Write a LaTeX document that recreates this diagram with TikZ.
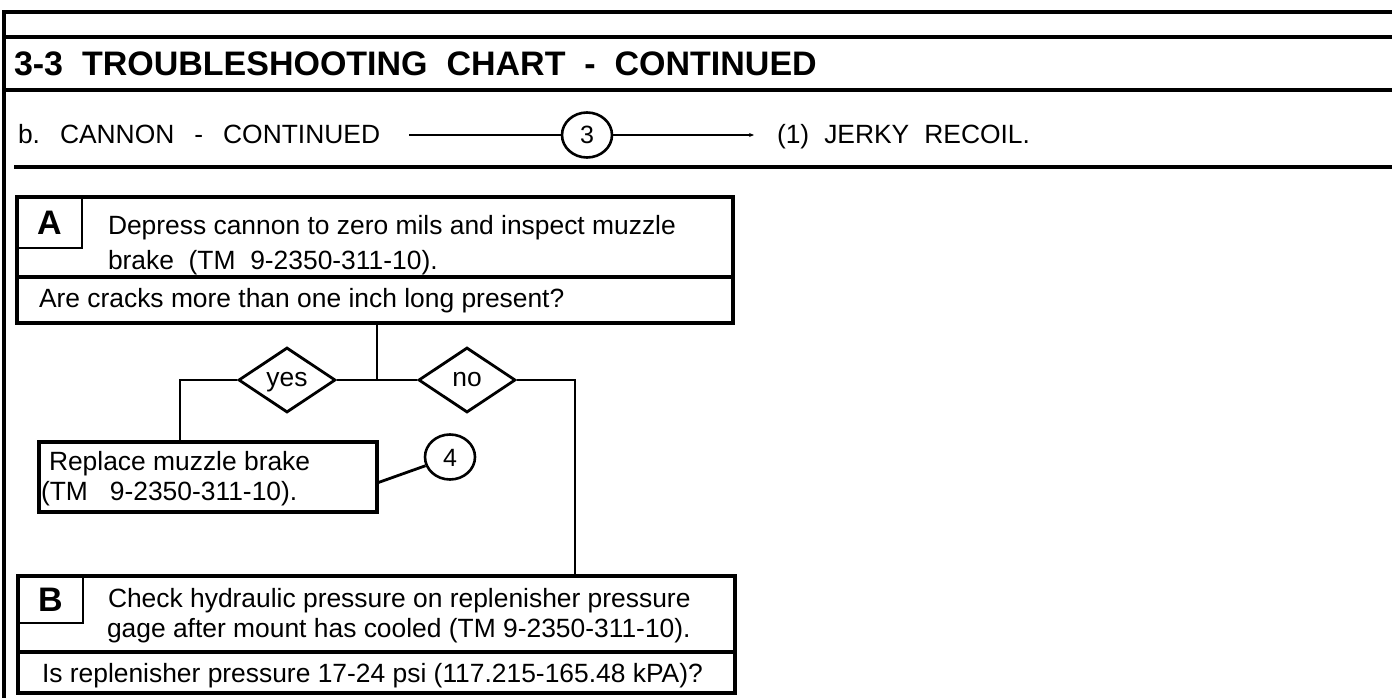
\documentclass[tikz,border=0pt]{standalone}
\usepackage{fontspec}
\setmainfont{Liberation Sans}
\usetikzlibrary{shapes.geometric,arrows.meta}
\newcommand\mybody{\fontsize{26.4pt}{30pt}\selectfont}
\newcommand\mytitle{\fontsize{34pt}{38pt}\selectfont\bfseries}
\newcommand\myletter{\fontsize{34pt}{38pt}\selectfont\bfseries}
\newcommand\mysmall{\fontsize{25pt}{28pt}\selectfont}
\begin{document}
\begin{tikzpicture}[x=1pt,y=-1pt,
  frame/.style={line width=4pt},
  box/.style={draw,rectangle,line width=3.6pt,inner sep=0pt,outer sep=0pt},
  lbox/.style={draw,rectangle,line width=2.8pt,inner sep=0pt,outer sep=0pt,font=\myletter},
  txt/.style={inner sep=0pt,outer sep=0pt,anchor=base west,font=\mybody},
  divider/.style={line width=3.4pt},
  conn/.style={line width=2.8pt},
  thin/.style={line width=2.2pt},
  dia/.style={draw,diamond,line width=2.8pt,minimum width=97pt,minimum height=65pt,inner sep=0pt,font=\mybody,text height=13.5pt,text depth=0pt},
  ring/.style={draw,ellipse,line width=2.6pt,minimum width=50pt,minimum height=45pt,inner sep=0pt,font=\mysmall,text height=18pt,text depth=0pt}]
\useasboundingbox (0,0) rectangle (1392,698);
% frame
\draw[frame] (4,698) -- (4,12) -- (1392,12);
\draw[frame] (4,37) -- (1392,37);
\draw[frame] (4,90) -- (1392,90);
\draw[frame] (14,167) -- (1392,167);
% headings
\node[txt,font=\mytitle] (title) at (14,76) {3-3\ \ TROUBLESHOOTING\ \ CHART\ \ -\ \ CONTINUED};
\node[txt] (sub) at (18,143) {b.\hspace{20pt}CANNON\hspace{20pt}-\hspace{20pt}CONTINUED};
\coordinate (s1) at (409,135);
\coordinate (s2) at (754,135);
\node[ring] (c3) at (587,135) {3};
\node[txt] (jerky) at (777,143) {(1)\hspace{15pt}JERKY\hspace{15pt}RECOIL.};
\draw[thin] (s1) -- (c3);
\draw[thin,-{Stealth[length=5pt,width=4pt]}] (c3) -- (s2);
% box A
\node[box,minimum width=716pt,minimum height=126pt] (boxA) at (375,260) {};
\node[lbox,minimum width=65pt,minimum height=51pt] (la) at (49.5,222.5) {A};
\draw[divider] (17,277) -- (733,277);
\node[txt] (a1) at (108,234) {Depress cannon to zero mils and inspect muzzle};
\node[txt] (a2) at (108,269) {brake\ \ (TM\ \ 9-2350-311-10).};
\node[txt] (a3) at (39,307) {Are cracks more than one inch long present?};
% decisions
\coordinate (j) at (377,380);
\node[dia] (yes) at (287,380) {yes};
\node[dia] (no) at (467,380) {no};
\draw[conn] (boxA.south -| j) -- (j);
\draw[conn] (yes.east) -- (no.west);
% replace box
\node[box,minimum width=338pt,minimum height=70pt] (rep) at (208,477) {};
\node[txt] (r1) at (49,470) {Replace muzzle brake};
\node[txt] (r2) at (41,500) {(TM\ \ \ 9-2350-311-10).};
\coordinate (yl) at (180,380);
\draw[conn] (yes.west) -- (yl) -- (yl |- rep.north);
\node[ring] (c4) at (450,457) {4};
\draw[conn] ([yshift=-6pt]rep.east) -- (c4);
% box B
\node[box,minimum width=717pt,minimum height=117pt] (boxB) at (376.5,634.5) {};
\node[lbox,minimum width=65pt,minimum height=47pt] (lb) at (50.5,599.5) {B};
\draw[divider] (18,652) -- (735,652);
\node[txt] (b1) at (108,607) {Check hydraulic pressure on replenisher pressure};
\node[txt] (b2) at (107,637) {gage after mount has cooled (TM 9-2350-311-10).};
\node[txt] (b3) at (42,682) {Is replenisher pressure 17-24 psi (117.215-165.48 kPA)?};
\coordinate (nr) at (575,380);
\draw[conn] (no.east) -- (nr) -- (nr |- boxB.north);
\end{tikzpicture}
\end{document}
